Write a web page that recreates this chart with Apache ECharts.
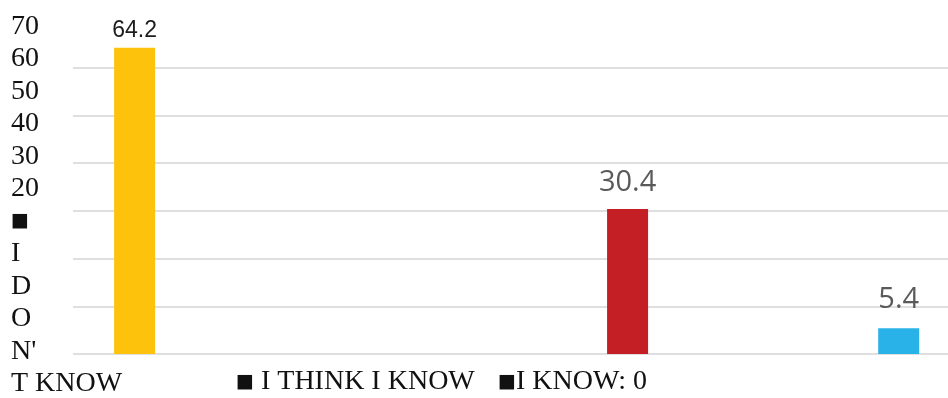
<!DOCTYPE html>
<html>
<head>
<meta charset="utf-8">
<style>
  html, body { margin: 0; padding: 0; background: #ffffff; }
  #chart { width: 948px; height: 398px; }
</style>
<script src="https://cdn.jsdelivr.net/npm/echarts@6/dist/echarts.min.js"></script>
</head>
<body>
<div id="chart"></div>
<script>
// Survey answers and their shares (%)
const answers = ["I DON'T KNOW", "I THINK I KNOW", "I KNOW"];
const shares = [64.2, 30.4, 5.4];
// Column of each answer on the horizontal scale
const columns = [2.5, 22.5, 33.5];
const barColors = ['#FDC20C', '#C41F25', '#28B2E7'];

// Text running down the left edge: tick values, then the first legend entry letter by letter
const tickLabels = ['70', '60', '50', '40', '30', '20'];
const sideLetters = ['■', 'I', 'D', 'O', "N'", 'T KNOW'];
const legendTail = ['■ I THINK I KNOW', '■I KNOW: 0'];

const chart = echarts.init(document.getElementById('chart'), null, { renderer: 'canvas' });

const labelStyles = [
  { color: '#1c1c1c', fontFamily: 'Liberation Sans', fontSize: 23, distance: 6 },
  { color: '#5a5a5a', fontFamily: 'Open Sans', fontSize: 29, distance: 12 },
  { color: '#5a5a5a', fontFamily: 'Open Sans', fontSize: 29, distance: 14 }
];

// One bar series; each answer is drawn at its own column with its own colour and label
const barData = answers.map((name, i) => ({
  name: name,
  value: [columns[i], shares[i]],
  itemStyle: { color: barColors[i] },
  label: labelStyles[i]
}));

const serif = 'Liberation Serif';
const sideText = tickLabels.concat(sideLetters.map(s => s === '■' ? '{sq|■}' : s)).join('\n');

chart.setOption({
  animation: false,
  backgroundColor: '#ffffff',
  grid: { left: 73, right: 0, top: 20, bottom: 44 },
  xAxis: {
    type: 'value',
    min: 0,
    max: 35.5,
    axisLine: { show: false },
    axisTick: { show: false },
    axisLabel: { show: false },
    splitLine: { show: false }
  },
  yAxis: {
    type: 'value',
    min: 0,
    max: 70,
    interval: 10,
    axisLine: { show: false },
    axisTick: { show: false },
    axisLabel: { show: false },
    splitLine: {
      show: true,
      showMaxLine: false,
      lineStyle: { color: '#d4d4d4', width: 1.5 }
    }
  },
  series: [{
    type: 'bar',
    barWidth: 41,
    data: barData,
    label: {
      show: true,
      position: 'top',
      formatter: p => String(p.value[1])
    }
  }],
  graphic: [
    {
      type: 'text',
      left: 11,
      top: 10,
      style: {
        text: sideText,
        font: '28px "' + serif + '"',
        lineHeight: 32.5,
        fill: '#111111',
        rich: {
          sq: { fontSize: 19, fontFamily: 'DejaVu Sans', lineHeight: 32.5, fill: '#111111' }
        }
      }
    },
    {
      type: 'text',
      left: 236,
      top: 368,
      style: {
        text: '{sq|■} ' + legendTail[0].slice(2),
        font: '28px "' + serif + '"',
        fill: '#111111',
        rich: { sq: { fontSize: 19, fontFamily: 'DejaVu Sans', fill: '#111111' } }
      }
    },
    {
      type: 'text',
      left: 498,
      top: 368,
      style: {
        text: '{sq|■}' + legendTail[1].slice(1),
        font: '28px "' + serif + '"',
        fill: '#111111',
        rich: { sq: { fontSize: 19, fontFamily: 'DejaVu Sans', fill: '#111111' } }
      }
    }
  ]
});
</script>
</body>
</html>
